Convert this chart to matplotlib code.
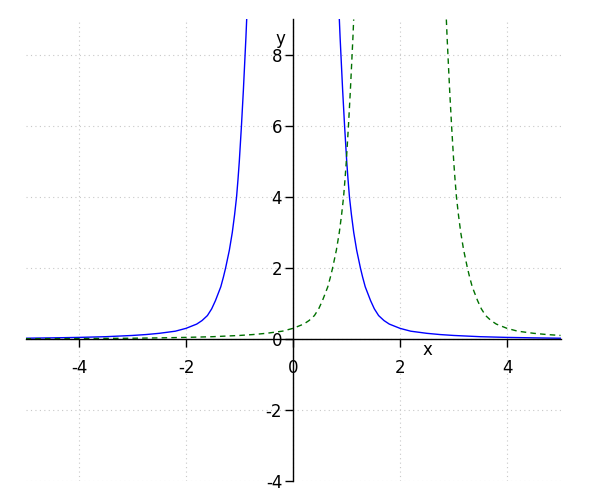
import matplotlib
matplotlib.use('Agg')
import matplotlib.pyplot as plt

plt.rcParams['axes.unicode_minus'] = False

# blue curve, two branches
blue_left_x = [-5.0, -4.5, -4.0, -3.5, -3.0, -2.75, -2.5, -2.2, -2.0, -1.8, -1.7,
               -1.6, -1.52, -1.45, -1.35, -1.3, -1.26, -1.19, -1.135, -1.092, -1.055,
               -1.028, -1.004, -0.964, -0.928, -0.896, -0.88, -0.866]
blue_left_y = [0.022, 0.032, 0.045, 0.065, 0.1, 0.125, 0.16, 0.22, 0.3, 0.42, 0.52,
               0.66, 0.85, 1.08, 1.47, 1.75, 2.0, 2.5, 3.0, 3.5, 4.0,
               4.5, 5.0, 6.0, 7.0, 8.0, 8.5, 9.0]
blue_right_x = [0.866, 0.88, 0.896, 0.928, 0.964, 1.004, 1.028, 1.055, 1.092, 1.135,
                1.19, 1.26, 1.3, 1.35, 1.45, 1.52, 1.6, 1.7, 1.8, 2.0, 2.2,
                2.5, 2.75, 3.0, 3.5, 4.0, 4.5, 5.0]
blue_right_y = [9.0, 8.5, 8.0, 7.0, 6.0, 5.0, 4.5, 4.0, 3.5, 3.0,
                2.5, 2.0, 1.75, 1.47, 1.08, 0.85, 0.66, 0.52, 0.42, 0.3, 0.22,
                0.16, 0.125, 0.1, 0.065, 0.045, 0.032, 0.022]

# green dashed curve, two branches
green_left_x = [-5.0, -4.0, -3.0, -2.5, -2.0, -1.5, -1.0, -0.75, -0.5, -0.2, 0.0,
                0.2, 0.3, 0.4, 0.48, 0.55, 0.65, 0.7, 0.74, 0.81, 0.865, 0.908,
                0.945, 0.972, 0.996, 1.036, 1.072, 1.104, 1.12, 1.134]
green_left_y = [0.008, 0.012, 0.022, 0.032, 0.045, 0.065, 0.1, 0.125, 0.16, 0.22, 0.3,
                0.42, 0.52, 0.66, 0.85, 1.08, 1.47, 1.75, 2.0, 2.5, 3.0, 3.5,
                4.0, 4.5, 5.0, 6.0, 7.0, 8.0, 8.5, 9.0]
green_right_x = [2.866, 2.88, 2.896, 2.928, 2.964, 3.004, 3.028, 3.055, 3.092, 3.135,
                 3.19, 3.26, 3.3, 3.35, 3.45, 3.52, 3.6, 3.7, 3.8, 4.0, 4.2,
                 4.5, 4.75, 5.0]
green_right_y = [9.0, 8.5, 8.0, 7.0, 6.0, 5.0, 4.5, 4.0, 3.5, 3.0,
                 2.5, 2.0, 1.75, 1.47, 1.08, 0.85, 0.66, 0.52, 0.42, 0.3, 0.22,
                 0.16, 0.125, 0.1]

xticks = [-4, -2, 0, 2, 4]
yticks = [-4, -2, 0, 2, 4, 6, 8]

fig = plt.figure(figsize=(6, 5), dpi=100)
ax = fig.add_axes([0.0425, 0.038, 0.8917, 0.923])

ax.plot(blue_left_x, blue_left_y, color='#0000ff', lw=1)
ax.plot(blue_right_x, blue_right_y, color='#0000ff', lw=1)
ax.plot(green_left_x, green_left_y, color='#007000', lw=1, dashes=(4, 3))
ax.plot(green_right_x, green_right_y, color='#007000', lw=1, dashes=(4, 3))

ax.set_xlim(-5, 5)
ax.set_ylim(-4, 9)

# axes through the origin
ax.spines['left'].set_position(('data', 0))
ax.spines['bottom'].set_position(('data', 0))
ax.spines['right'].set_visible(False)
ax.spines['top'].set_visible(False)
for s in ('left', 'bottom'):
    ax.spines[s].set_linewidth(1)
    ax.spines[s].set_zorder(5)

ax.set_xticks(xticks)
ax.set_yticks(yticks)
ax.tick_params(axis='x', direction='out', length=5.8, width=1, pad=8.5, labelsize=12)
ax.tick_params(axis='y', direction='out', length=5.8, width=1, pad=2, labelsize=12)
ax.grid(True, color='#c8c8c8', linestyle=(0, (1, 3)), linewidth=0.8)

ax.text(2.52, -0.07, 'x', ha='center', va='top', fontsize=12)
ax.text(-0.24, 8.45, 'y', ha='center', va='center', fontsize=12)

fig.savefig('out.png', dpi=100)
